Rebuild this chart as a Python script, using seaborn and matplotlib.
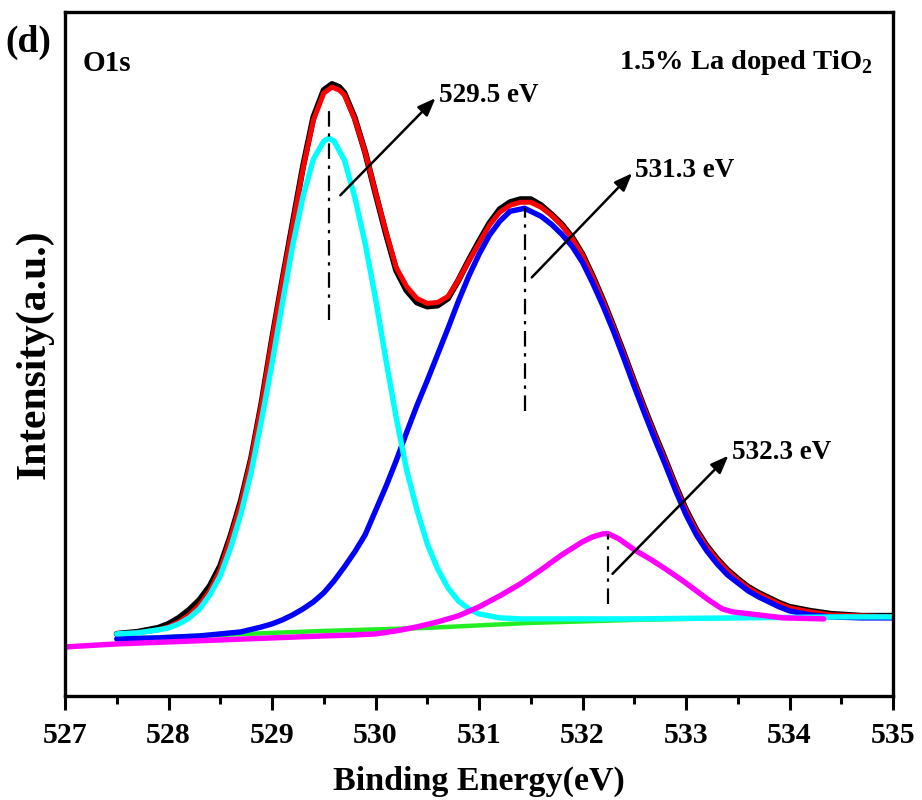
import matplotlib
matplotlib.use("Agg")
import matplotlib.pyplot as plt
import seaborn as sns

# ---------------- data (binding energy in eV, intensity in a.u.) ----------------
# cumulative fit (red)
fit_E = [527.5, 527.7, 527.9, 528.0, 528.1, 528.2, 528.3, 528.4, 528.5, 528.6,
         528.7, 528.8, 528.9, 529.0, 529.1, 529.2, 529.3, 529.4, 529.5, 529.58,
         529.65, 529.7, 529.8, 529.9, 530.0, 530.1, 530.2, 530.3, 530.4, 530.5,
         530.6, 530.7, 530.8, 530.9, 531.0, 531.1, 531.2, 531.3, 531.4, 531.5,
         531.6, 531.7, 531.8, 531.9, 532.0, 532.1, 532.2, 532.3, 532.4, 532.5,
         532.6, 532.7, 532.8, 532.9, 533.0, 533.1, 533.2, 533.3, 533.4, 533.5,
         533.6, 533.7, 533.8, 533.9, 534.0, 534.2, 534.4, 534.7, 535.0]
fit_I = [62, 63, 66, 69, 74, 81, 91, 105, 126, 158,
         193, 237, 292, 355, 414, 470, 527, 575, 602, 608,
         605, 600, 576, 543, 503, 464, 428, 409, 397, 392,
         393, 399, 415, 434, 452, 470, 483, 490, 493, 493,
         488, 480, 470, 457, 440, 418, 394, 368, 341, 313,
         286, 260, 235, 209, 185, 165, 149, 136, 125, 116,
         108, 102, 97, 92, 88, 84, 81, 80, 79]

# raw spectrum (black)
raw_E = fit_E
raw_I = [62, 64, 68, 72, 78, 86, 96, 110, 130, 160,
         195, 238, 293, 356, 415, 472, 529, 578, 605, 611,
         608, 602, 577, 543, 502, 462, 425, 405, 393, 389,
         390, 397, 415, 435, 454, 472, 486, 493, 496, 496,
         490, 481, 471, 458, 441, 419, 395, 369, 342, 314,
         287, 261, 236, 210, 186, 166, 150, 137, 126, 117,
         109, 103, 98, 93, 89, 85, 82, 80, 80]

# component 529.5 eV (cyan)
c1_E = [527.5, 527.7, 527.9, 528.0, 528.1, 528.2, 528.3, 528.4, 528.5, 528.6,
        528.7, 528.8, 528.9, 529.0, 529.1, 529.2, 529.3, 529.4, 529.5, 529.55,
        529.6, 529.7, 529.8, 529.9, 530.0, 530.1, 530.2, 530.3, 530.4, 530.5,
        530.6, 530.7, 530.8, 530.9, 531.0, 531.1, 531.2, 531.4, 531.7, 532.5,
        533.5, 534.5, 535.0]
c1_I = [62, 63, 66, 68, 72, 78, 87, 101, 120, 148,
        182, 224, 276, 332, 392, 450, 499, 536, 554, 557,
        554, 535, 498, 452, 397, 336, 278, 226, 186, 152,
        127, 108, 95, 87, 82, 80, 78, 77, 77, 77,
        78, 79, 79]

# component 531.3 eV (blue)
c2_E = [527.5, 527.9, 528.3, 528.7, 528.9, 529.0, 529.1, 529.2, 529.3, 529.4,
        529.5, 529.6, 529.7, 529.8, 529.9, 530.0, 530.1, 530.2, 530.3, 530.4,
        530.5, 530.6, 530.7, 530.8, 530.9, 531.0, 531.1, 531.2, 531.3, 531.44,
        531.6, 531.7, 531.8, 531.9, 532.0, 532.1, 532.2, 532.3, 532.4, 532.5,
        532.6, 532.7, 532.8, 532.9, 533.0, 533.1, 533.2, 533.3, 533.4, 533.5,
        533.6, 533.7, 533.8, 533.9, 534.0, 534.2, 534.4, 534.7, 535.0]
c2_I = [57, 58, 60, 64, 69, 72, 76, 81, 87, 94,
        103, 115, 129, 144, 161, 185, 209, 235, 263, 290,
        315, 341, 367, 394, 419, 441, 460, 474, 484, 487,
        479, 471, 461, 449, 433, 412, 389, 364, 337, 309,
        282, 256, 231, 205, 181, 161, 145, 132, 121, 113,
        105, 99, 94, 89, 85, 81, 79, 78, 78]

# component 532.3 eV (magenta)
c3_E = [527.0, 527.5, 528.0, 528.5, 529.0, 529.5, 529.8, 530.0, 530.2, 530.4,
        530.6, 530.8, 531.0, 531.2, 531.4, 531.6, 531.8, 532.0, 532.1, 532.2,
        532.25, 532.35, 532.5, 532.65, 532.8, 532.97, 533.1, 533.23, 533.35, 533.45,
        533.62, 533.94, 534.33]
c3_I = [49, 52, 54, 56, 58, 60, 61, 62, 65, 69,
        74, 80, 89, 100, 112, 126, 141, 154, 159, 162,
        162, 157, 146, 137, 127, 115, 105, 95, 87, 84,
        82, 78, 77]

# background (green)
bg_E = [527.5, 528.5, 529.5, 530.5, 531.5, 532.5, 533.5, 534.5, 535.0]
bg_I = [57, 61, 65, 68, 73, 76, 78, 79, 79]

# peak markers / annotations
peak_labels = ["529.5 eV", "531.3 eV", "532.3 eV"]
peak_pos = [529.55, 531.44, 532.25]
peak_line_top = [587, 487, 162]
peak_line_bottom = [375, 285, 92]
arrow_tail = [(529.66, 500), (531.51, 418), (532.29, 122)]
arrow_head = [(530.58, 597), (532.48, 522), (533.41, 240)]

xticks = [527, 528, 529, 530, 531, 532, 533, 534, 535]

# ---------------- style ----------------
sns.set_theme(style="ticks")
plt.rcParams['font.family'] = ['Liberation Serif', 'DejaVu Serif']
plt.rcParams['font.weight'] = 'bold'
plt.rcParams['text.color'] = 'black'
plt.rcParams['axes.labelcolor'] = 'black'
plt.rcParams['xtick.color'] = 'black'
plt.rcParams['ytick.color'] = 'black'
plt.rcParams['mathtext.fontset'] = 'custom'
plt.rcParams['mathtext.rm'] = 'Liberation Serif:bold'
plt.rcParams['mathtext.bf'] = 'Liberation Serif:bold'

fig = plt.figure(figsize=(9.22, 8.0), dpi=100)
ax = fig.add_axes([65 / 922, 1 - 696 / 800, (893 - 65) / 922, (696 - 12) / 800])

sns.lineplot(x=bg_E, y=bg_I, ax=ax, color="#22ee22", lw=3.2)
sns.lineplot(x=raw_E, y=raw_I, ax=ax, color="black", lw=4.4)
sns.lineplot(x=fit_E, y=fit_I, ax=ax, color="#ff0000", lw=3.6)
sns.lineplot(x=c2_E, y=c2_I, ax=ax, color="#0000ff", lw=3.9)
sns.lineplot(x=c1_E, y=c1_I, ax=ax, color="#00ffff", lw=3.9)
sns.lineplot(x=c3_E, y=c3_I, ax=ax, color="#ff00ff", lw=3.9)

for p, t, b in zip(peak_pos, peak_line_top, peak_line_bottom):
    ax.plot([p, p], [b, t], color="black", lw=1.6, ls=(0, (7, 3, 1.5, 3)))

for lab, tail, head in zip(peak_labels, arrow_tail, arrow_head):
    ax.annotate("", xy=head, xytext=tail,
                arrowprops=dict(arrowstyle="-|>,head_length=0.9,head_width=0.35",
                                color="black", lw=1.8, shrinkA=0, shrinkB=0))
    ax.text(head[0] + 0.03, head[1] + 3, lab, fontsize=19.5, fontweight="bold",
            ha="left", va="center", color="black")

ax.text(527.17, 632, "O1s", fontsize=21, fontweight="bold", ha="left", va="center")
ax.text(534.8, 633, r"1.5% La doped TiO$_\mathbf{2}$", fontsize=20.5,
        fontweight="bold", ha="right", va="center")
fig.text(28 / 922, 1 - 42 / 800, "(d)", fontsize=27, fontweight="bold",
         ha="center", va="center")

ax.set_xlim(527, 535)
ax.set_ylim(0, 683)
ax.set_xticks(xticks)
ax.set_xticklabels([str(v) for v in xticks])
ax.set_xticks([527.5 + i for i in range(8)], minor=True)
ax.set_yticks([])
ax.tick_params(axis="x", which="major", direction="out", length=10, width=2.2,
               labelsize=21.5, pad=9, colors="black")
ax.tick_params(axis="x", which="minor", direction="out", length=6, width=2.2)
for s in ax.spines.values():
    s.set_linewidth(2.4)
    s.set_color("black")
    s.set_visible(True)

ax.set_xlabel("Binding Energy(eV)", fontsize=24.5, fontweight="bold", labelpad=12)
ax.set_ylabel("Intensity(a.u.)", fontsize=30, fontweight="bold", labelpad=8)

fig.savefig("out.png", dpi=100, facecolor="white")
